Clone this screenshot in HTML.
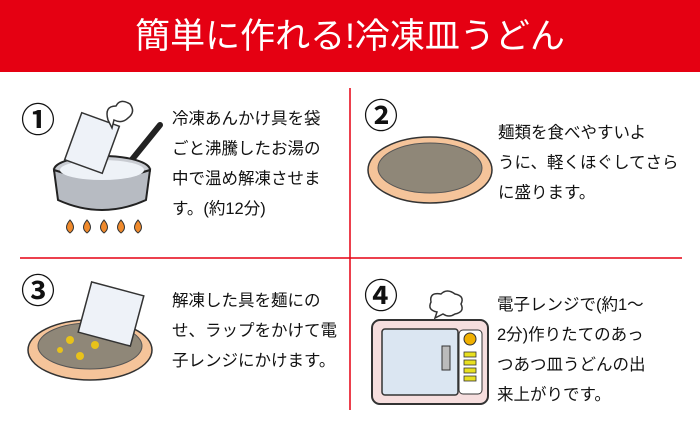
<!DOCTYPE html>
<html><head><meta charset="utf-8"><style>
body{margin:0;width:700px;height:435px;background:#fff;position:relative;overflow:hidden;font-family:"Liberation Sans","Noto Sans CJK JP",sans-serif;color:#111}
.hd{position:absolute;left:0;top:0;width:700px;height:72px;background:#e50012}
.hd div{position:absolute;left:0;width:700px;top:15px;text-align:center;color:#fff;font-size:35px;line-height:44px}
.t{position:absolute;font-size:16.5px;line-height:30px;white-space:nowrap}
.n{position:absolute;font-size:34px;font-weight:bold;line-height:34px}
</style></head><body>
<div class="hd"><div>簡単に作れる!冷凍皿うどん</div></div>
<svg width="700" height="435" style="position:absolute;left:0;top:0">
<line x1="350" y1="88" x2="350" y2="410" stroke="#e50012" stroke-width="1.5"/>
<line x1="20" y1="258" x2="682" y2="258" stroke="#e50012" stroke-width="1.5"/>
<line x1="130" y1="162" x2="160" y2="125" stroke="#222" stroke-width="6" stroke-linecap="round"/>
<ellipse cx="102" cy="170" rx="48" ry="14" fill="#c9ccd2" stroke="#222" stroke-width="2"/>
<path d="M54 170 L58 200 Q102 220 146 200 L150 170 Q102 186 54 170Z" fill="#b7bbc2" stroke="#222" stroke-width="2"/>
<ellipse cx="102" cy="170" rx="42" ry="10" fill="#eef2f7"/>
<rect x="72" y="118" width="40" height="50" fill="#eef2f8" stroke="#333" stroke-width="1.5" transform="rotate(20 92 143)"/>
<path d="M108 120 q-4 -14 8 -14 q4 -8 14 -2 q6 8 -2 14 q-6 6 -14 2 l-2 8z" fill="#fff" stroke="#333" stroke-width="1.5"/>
<g fill="#f08a2c" stroke="#333" stroke-width="1">
<path d="M70 220 q-7 8 0 13 q7 -5 0 -13z"/><path d="M87 220 q-7 8 0 13 q7 -5 0 -13z"/><path d="M104 220 q-7 8 0 13 q7 -5 0 -13z"/><path d="M121 220 q-7 8 0 13 q7 -5 0 -13z"/><path d="M138 220 q-7 8 0 13 q7 -5 0 -13z"/></g>
<ellipse cx="430" cy="170" rx="62" ry="33" fill="#f5c49a" stroke="#333" stroke-width="1.5"/>
<ellipse cx="430" cy="168" rx="52" ry="25" fill="#8f8778" stroke="#555" stroke-width="1"/>
<ellipse cx="90" cy="350" rx="62" ry="30" fill="#f5c49a" stroke="#333" stroke-width="1.5"/>
<ellipse cx="90" cy="346" rx="52" ry="23" fill="#8f8778" stroke="#555" stroke-width="1"/>
<g fill="#e8c21a"><circle cx="70" cy="340" r="4"/><circle cx="95" cy="345" r="4"/><circle cx="115" cy="338" r="4"/><circle cx="80" cy="356" r="4"/><circle cx="60" cy="350" r="3"/></g>
<rect x="84" y="288" width="54" height="52" fill="#eef2f8" stroke="#333" stroke-width="1.5" transform="rotate(15 111 314)"/>
<rect x="372" y="320" width="116" height="84" rx="8" fill="#f6dede" stroke="#333" stroke-width="2"/>
<rect x="382" y="329" width="76" height="66" rx="3" fill="#dbe6f2" stroke="#333" stroke-width="1.5"/>
<rect x="442" y="346" width="8" height="24" fill="#bbb" stroke="#333"/>
<rect x="459" y="330" width="23" height="64" rx="4" fill="#fff" stroke="#333"/>
<circle cx="470" cy="339" r="6" fill="#f0b000" stroke="#333"/>
<g fill="#e8e020" stroke="#333" stroke-width="0.8"><rect x="464" y="352" width="12" height="5"/><rect x="464" y="360" width="12" height="5"/><rect x="464" y="368" width="12" height="5"/><rect x="464" y="376" width="12" height="5"/></g>
<path d="M435 318 l2 -6 q-10 -2 -6 -10 q-2 -10 10 -8 q6 -6 14 0 q10 2 6 10 q4 8 -6 10 q-6 4 -12 0z" fill="#fff" stroke="#333" stroke-width="1.5"/>
</svg>
<div class="n" style="left:21px;top:104px">①</div>
<div class="n" style="left:364px;top:100px">②</div>
<div class="n" style="left:21px;top:275px">③</div>
<div class="n" style="left:364px;top:280px">④</div>
<div class="t" style="left:172px;top:104px">冷凍あんかけ具を袋<br>ごと沸騰したお湯の<br>中で温め解凍させま<br>す。(約12分)</div>
<div class="t" style="left:498px;top:118px">麺類を食べやすいよ<br>うに、軽くほぐしてさら<br>に盛ります。</div>
<div class="t" style="left:172px;top:286px">解凍した具を麺にの<br>せ、ラップをかけて電<br>子レンジにかけます。</div>
<div class="t" style="left:497px;top:290px">電子レンジで(約1～<br>2分)作りたてのあっ<br>つあつ皿うどんの出<br>来上がりです。</div>
</body></html>
